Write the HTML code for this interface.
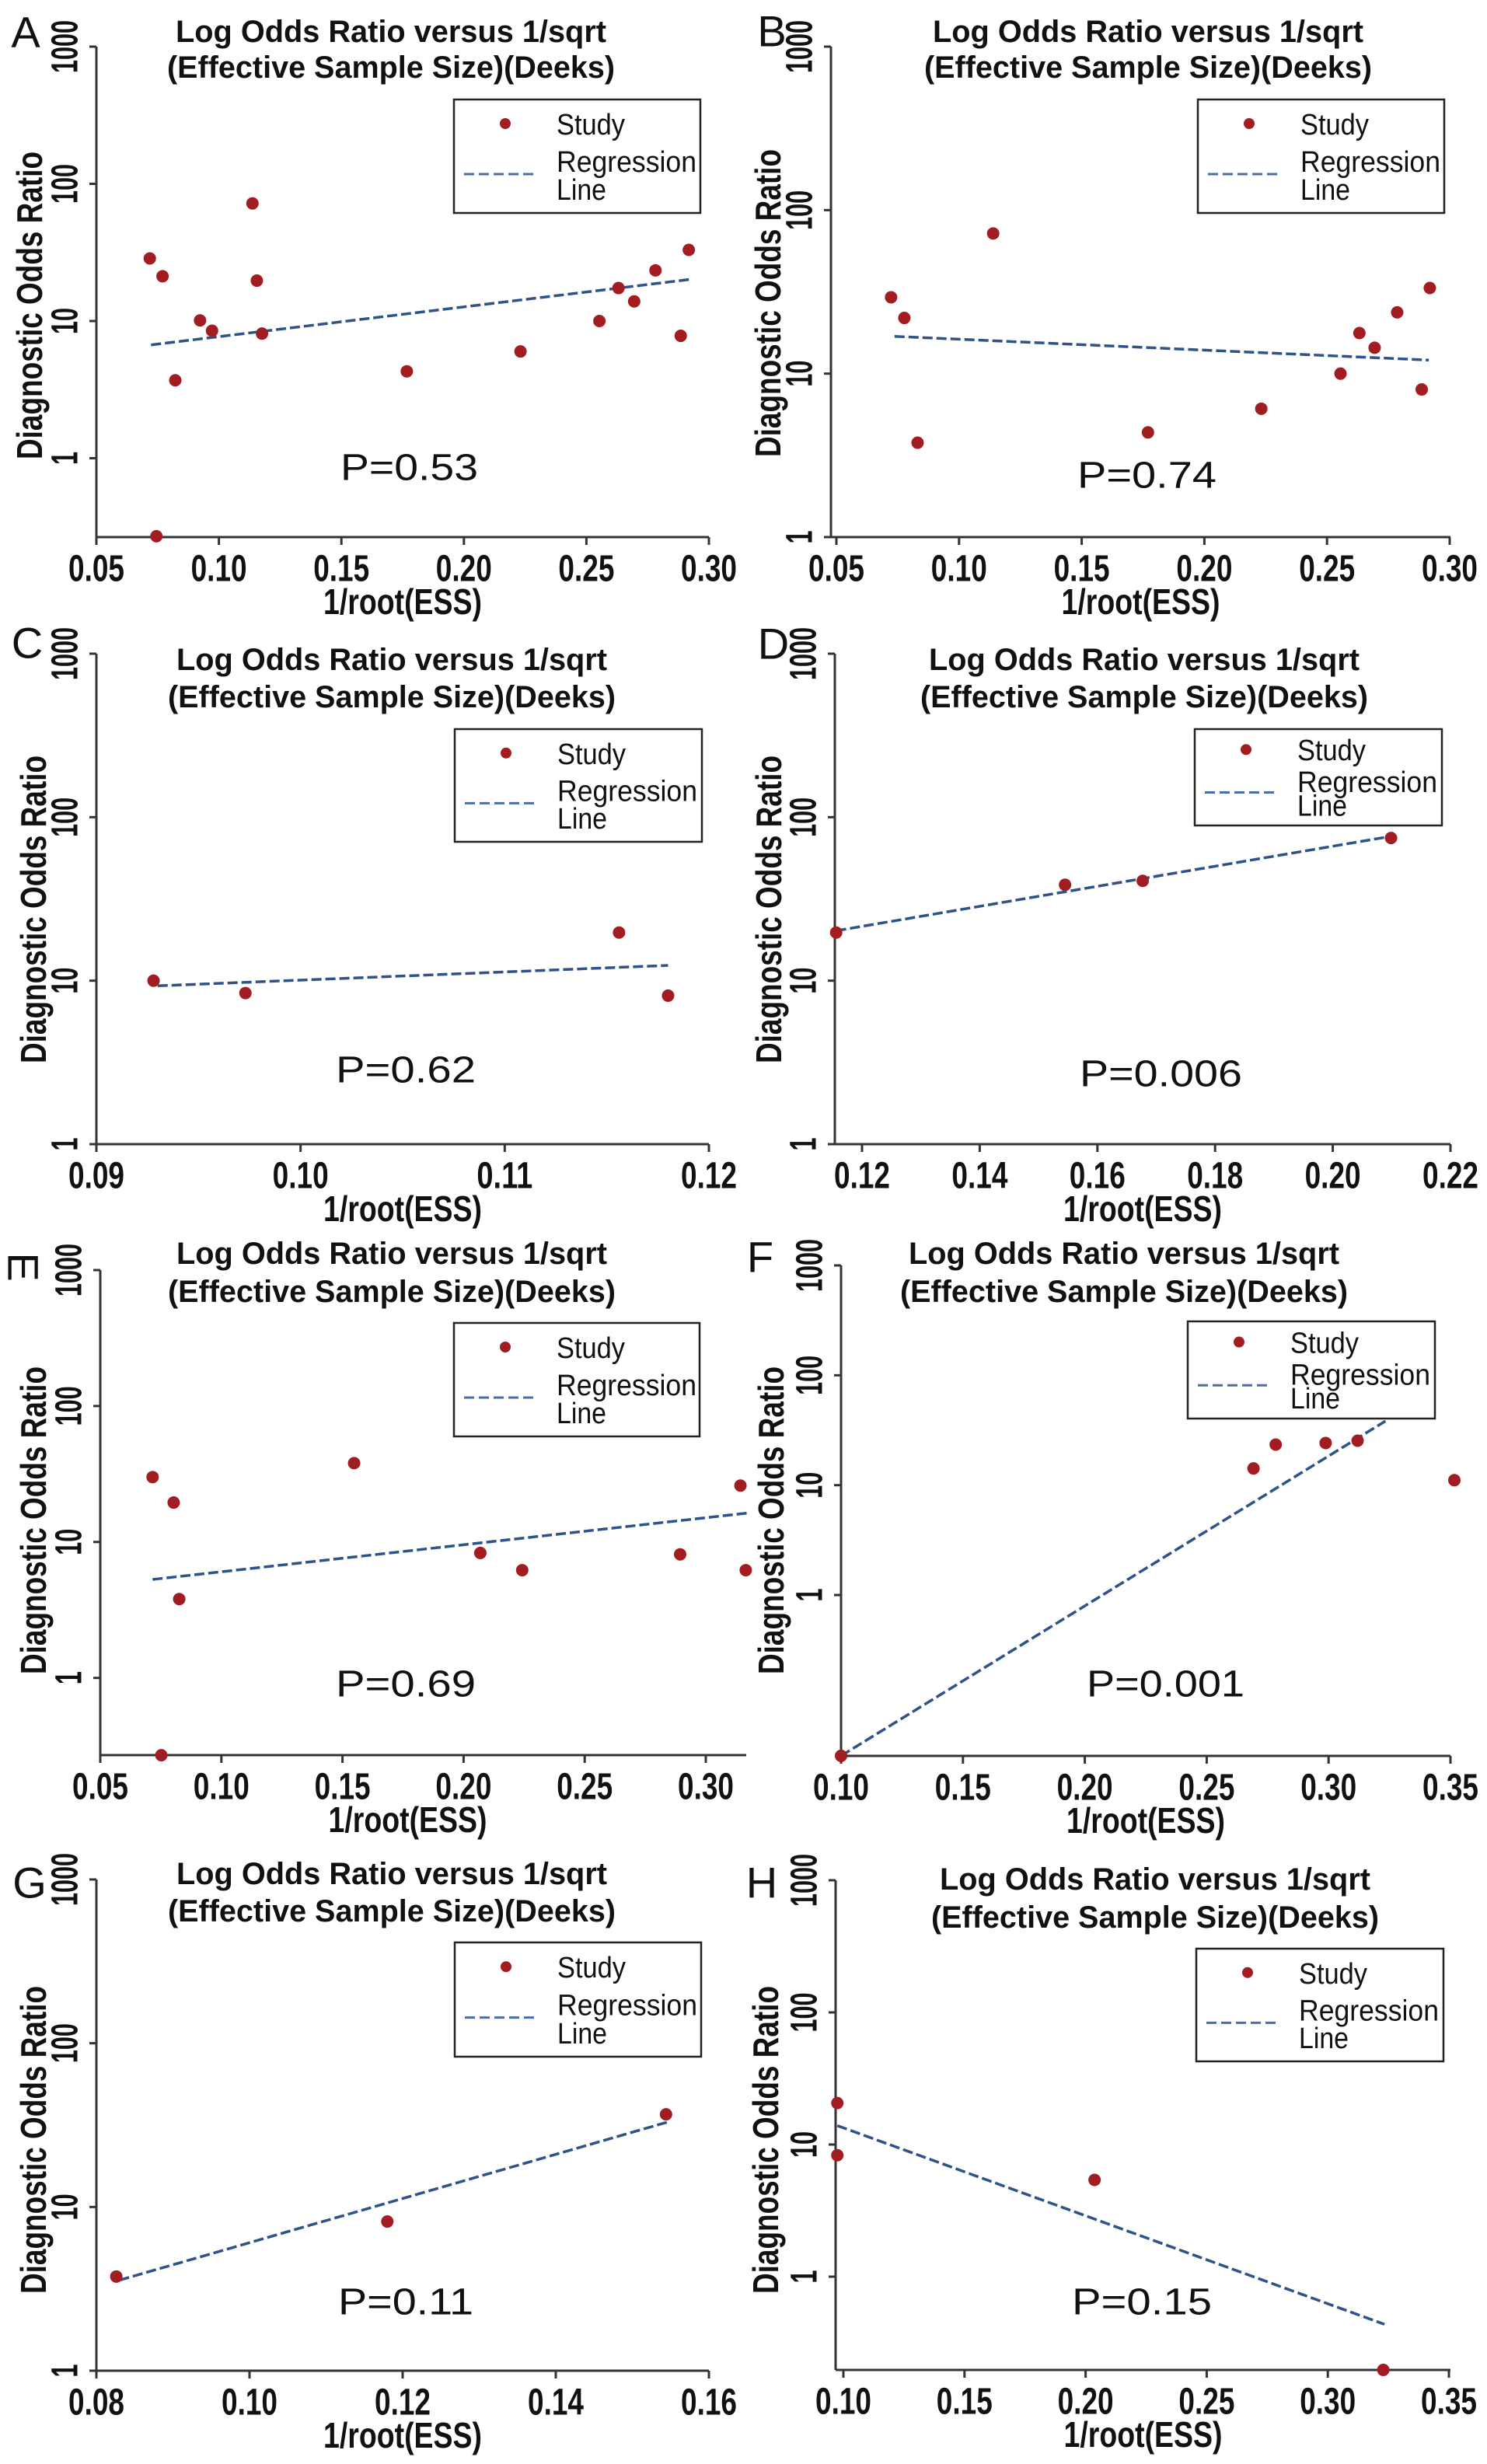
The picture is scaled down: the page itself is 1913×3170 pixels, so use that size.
<!DOCTYPE html>
<html><head><meta charset="utf-8"><title>Deeks funnel plots</title>
<style>
html,body{margin:0;padding:0;background:#fff;}
svg{display:block;}
text{font-family:"Liberation Sans Narrow","Liberation Sans",sans-serif;fill:#111;}
</style></head>
<body>
<svg id="fig" xmlns="http://www.w3.org/2000/svg" width="1913" height="3170" viewBox="0 0 1913 3170"></svg>
<script>
// ---- data ----
const aX=[0.0718,0.077,0.0822,0.0923,0.0972,0.1137,0.1155,0.1176,0.1767,0.2231,0.2553,0.2631,0.2695,0.2782,0.2885,0.2918,0.0745];
const aY=[28.6,21.2,3.7,10.1,8.5,72,19.7,8.1,4.3,6.0,10,17.4,13.9,23.4,7.8,33,0.27];
const aRegX=[0.0723,0.2922]; const aRegY=[6.7,20.1];
const bX=[0.0723,0.0777,0.0831,0.1139,0.177,0.2232,0.2555,0.2632,0.2694,0.2786,0.2886,0.2919];
const bY=[29.3,21.9,3.78,72,4.37,6.1,10,17.7,14.4,23.7,8.0,33.4];
const bRegX=[0.0737,0.2915]; const bRegY=[16.9,12.1];
const cX=[0.0928,0.0973,0.1156,0.118]; const cY=[10,8.4,19.7,8.1];
const cRegX=[0.093,0.118]; const cRegY=[9.3,12.4];
const dX=[0.1156,0.1545,0.1677,0.2099]; const dY=[19.7,38.6,40.8,74.6];
const dRegX=[0.1156,0.2099]; const dRegY=[20.2,76.4];
const eX=[0.0716,0.0803,0.0826,0.0752,0.1548,0.2069,0.2242,0.2894,0.3143,0.3165];
const eY=[30,19.5,3.8,0.27,38,8.3,6.2,8.1,26,6.2];
const eRegX=[0.0716,0.317]; const eRegY=[5.3,16.3];
const fX=[0.10,0.2692,0.2783,0.2988,0.3119,0.3516]; const fY=[0.0344,14.2,23.4,24.2,25.4,11.1];
const fRegX=[0.10,0.3233]; const fRegY=[0.0344,38.3];
const gX=[0.0826,0.118,0.1544]; const gY=[3.76,8.15,36.8];
const gRegX=[0.083,0.1546]; const gRegY=[3.57,33];
const hX=[0.0975,0.0975,0.2037,0.3229]; const hY=[20.6,8.3,5.4,0.197];
const hRegX=[0.0975,0.3234]; const hRegY=[13.9,0.436];
const ticks005=[0.05,0.10,0.15,0.20,0.25,0.30]; const labels005=["0.05","0.10","0.15","0.20","0.25","0.30"];
const ticksC=[0.09,0.10,0.11,0.12]; const labelsC=["0.09","0.10","0.11","0.12"];
const ticksD=[0.12,0.14,0.16,0.18,0.20,0.22]; const labelsD=["0.12","0.14","0.16","0.18","0.20","0.22"];
const ticksF=[0.10,0.15,0.20,0.25,0.30,0.35]; const labelsF=["0.10","0.15","0.20","0.25","0.30","0.35"];
const ticksG=[0.08,0.10,0.12,0.14,0.16]; const labelsG=["0.08","0.10","0.12","0.14","0.16"];
const yTicks=[1000,100,10,1]; const yLabels=["1000","100","10","1"];
const pTexts=["P=0.53","P=0.74","P=0.62","P=0.006","P=0.69","P=0.001","P=0.11","P=0.15"];

// ---- layout (pixel geometry) ----
const panels=[
 {id:"a",L:"A",X:aX,Y:aY,RX:aRegX,RY:aRegY,xt:ticks005,xl:labels005,v0:0.05,v1:0.30,p0:124,p1:912,ax0:124,ax1:912,yTop:60,yBot:691,botLog:-0.575,title:[503,41,87],leg:[584,128,901,274],pT:[438,615,602],yT:[38,393],let:[33,41,0]},
 {id:"b",L:"B",X:bX,Y:bY,RX:bRegX,RY:bRegY,xt:ticks005,xl:labels005,v0:0.05,v1:0.30,p0:1076,p1:1865,ax0:1069,ax1:1866,yTop:60,yBot:691,botLog:0,title:[1477,41,87],leg:[1541,128,1858,274],pT:[1386,1565,612],yT:[988,390],let:[993,40,0]},
 {id:"c",L:"C",X:cX,Y:cY,RX:cRegX,RY:cRegY,xt:ticksC,xl:labelsC,v0:0.09,v1:0.12,p0:124,p1:912,ax0:124,ax1:912,yTop:841,yBot:1472,botLog:0,title:[504,849,897],leg:[585,938,903,1083],pT:[432,612,1377],yT:[43,1170],let:[35,827,0]},
 {id:"d",L:"D",X:dX,Y:dY,RX:dRegX,RY:dRegY,xt:ticksD,xl:labelsD,v0:0.12,v1:0.22,p0:1109,p1:1866,ax0:1074,ax1:1866,yTop:841,yBot:1472,botLog:0,title:[1472,849,897],leg:[1537,938,1855,1062],pT:[1389,1598,1382],yT:[989,1170],let:[995,828,0]},
 {id:"e",L:"E",X:eX,Y:eY,RX:eRegX,RY:eRegY,xt:ticks005,xl:labels005,v0:0.05,v1:0.30,p0:129,p1:908,ax0:129,ax1:960,yTop:1634,yBot:2258,botLog:-0.568,title:[504,1613,1662],leg:[584,1702,900,1848],pT:[432,612,2167],yT:[43,1956],let:[30,1630,90]},
 {id:"f",L:"F",X:fX,Y:fY,RX:fRegX,RY:fRegY,xt:ticksF,xl:labelsF,v0:0.10,v1:0.35,p0:1082,p1:1866,ax0:1082,ax1:1866,yTop:1628,yBot:2259,botLog:-1.464,title:[1446,1613,1662],leg:[1528,1700,1846,1825],pT:[1398,1601,2167],yT:[992,1956],let:[978,1617,0]},
 {id:"g",L:"G",X:gX,Y:gY,RX:gRegX,RY:gRegY,xt:ticksG,xl:labelsG,v0:0.08,v1:0.16,p0:124,p1:912,ax0:124,ax1:912,yTop:2418,yBot:3050,botLog:0,title:[504,2411,2459],leg:[585,2499,902,2646],pT:[435,609,2962],yT:[43,2753],let:[38,2422,0]},
 {id:"h",L:"H",X:hX,Y:hY,RX:hRegX,RY:hRegY,xt:ticksF,xl:labelsF,v0:0.10,v1:0.35,p0:1085,p1:1864,ax0:1075,ax1:1866,yTop:2419,yBot:3049,botLog:-0.706,title:[1486,2418,2467],leg:[1539,2507,1857,2652],pT:[1379,1559,2962],yT:[985,2753],let:[980,2422,0]}
];
const NS="http://www.w3.org/2000/svg";
const svg=document.getElementById("fig");
function mk(tag,attrs,parent){const e=document.createElementNS(NS,tag);for(const k in attrs)e.setAttribute(k,attrs[k]);parent.appendChild(e);return e;}
function txt(str,attrs,parent){const t=mk("text",attrs,parent);t.textContent=str;return t;}

panels.forEach((P,pi)=>{
  const g=mk("g",{},svg);
  
  
  const sx=v=>P.p0+(v-P.v0)/(P.v1-P.v0)*(P.p1-P.p0);
  const dec=(P.yBot-P.yTop)/(3-P.botLog);
  const sy=v=>P.yTop+(3-Math.log10(v))*dec;
  const lt=txt(P.L,{x:P.let[0],y:P.let[1],"font-size":56,"text-anchor":"middle","dominant-baseline":"central",transform:P.let[2]?`rotate(${P.let[2]} ${P.let[0]} ${P.let[1]})`:"" ,style:'font-family:"Liberation Sans",sans-serif'},g);
  
  
  const t1=txt("Log Odds Ratio versus 1/sqrt",{x:P.title[0],y:P.title[1],"font-size":40,"font-weight":"bold","text-anchor":"middle","dominant-baseline":"central",textLength:554,lengthAdjust:"spacingAndGlyphs"},g);
  
  
  const t2=txt("(Effective Sample Size)(Deeks)",{x:P.title[0],y:P.title[2],"font-size":40,"font-weight":"bold","text-anchor":"middle","dominant-baseline":"central",textLength:576,lengthAdjust:"spacingAndGlyphs"},g);
  
  
  const ya=mk("line",{x1:P.ax0,y1:P.yTop,x2:P.ax0,y2:P.yBot,stroke:"#333","stroke-width":3},g);
  
  
  const xa=mk("line",{x1:P.ax0,y1:P.yBot,x2:P.ax1,y2:P.yBot,stroke:"#333","stroke-width":3},g);
  
  
  P.xt.forEach((v,i)=>{
    const x=sx(v);
    const tk=mk("line",{x1:x,y1:P.yBot,x2:x,y2:P.yBot+10,stroke:"#333","stroke-width":3},g);
    
    
    const tl=txt(P.xl[i],{x:x,y:P.yBot+41,"font-size":48,"font-weight":"bold","text-anchor":"middle","dominant-baseline":"central",textLength:72,lengthAdjust:"spacingAndGlyphs"},g);
    
    
  });
  yTicks.forEach((v,i)=>{
    if(Math.log10(v)<P.botLog-1e-9)return;
    const y=sy(v);
    const tk=mk("line",{x1:P.ax0-9,y1:y,x2:P.ax0,y2:y,stroke:"#333","stroke-width":3},g);
    
    
    const lx=P.ax0-40;
    const tl=txt(yLabels[i],{x:lx,y:y,"font-size":48,"font-weight":"bold","text-anchor":"middle","dominant-baseline":"central",textLength:17*yLabels[i].length,lengthAdjust:"spacingAndGlyphs",transform:`rotate(-90 ${lx} ${y})`},g);
    
    
  });
  const xt=txt("1/root(ESS)",{x:(P.ax0+P.ax1)/2+ (P.id==="e"?-20:0),y:P.yBot+83,"font-size":46,"font-weight":"bold","text-anchor":"middle","dominant-baseline":"central",textLength:204,lengthAdjust:"spacingAndGlyphs"},g);
  
  
  const yt=txt("Diagnostic Odds Ratio",{x:P.yT[0],y:P.yT[1],"font-size":46,"font-weight":"bold","text-anchor":"middle","dominant-baseline":"central",textLength:396,lengthAdjust:"spacingAndGlyphs",transform:`rotate(-90 ${P.yT[0]} ${P.yT[1]})`},g);
  
  
  const rl=mk("line",{x1:sx(P.RX[0]),y1:sy(P.RY[0]),x2:sx(P.RX[1]),y2:sy(P.RY[1]),stroke:"#2f5289","stroke-width":3.5,"stroke-dasharray":"13 5"},g);
  
  
  P.X.forEach((v,i)=>{
    const c=mk("circle",{cx:sx(v),cy:sy(P.Y[i]),r:8,fill:"#a21d22"},g);
    
    
  });
  const pt=txt(pTexts[pi],{x:P.pT[0],y:P.pT[2],"font-size":48,"dominant-baseline":"central",textLength:P.pT[1]-P.pT[0],lengthAdjust:"spacingAndGlyphs",style:'font-family:"Liberation Sans",sans-serif'},g);
  
  
  const [lx0,ly0,lx1,ly1]=P.leg;
  const h=ly1-ly0;
  const lg=mk("g",{},g);
  
  
  mk("rect",{x:lx0,y:ly0,width:lx1-lx0,height:h,fill:"#fff",stroke:"#222","stroke-width":2.5},lg);
  const s=h/146;
  const ld=mk("circle",{cx:lx0+66,cy:ly0+31*s,r:7,fill:"#a21d22"},lg);
  
  
  const ls=txt("Study",{x:lx0+132,y:ly0+33*s,"font-size":38,"dominant-baseline":"central",textLength:88,lengthAdjust:"spacingAndGlyphs"},lg);
  
  
  const ll=mk("line",{x1:lx0+13,y1:ly0+96*s,x2:lx0+105,y2:ly0+96*s,stroke:"#4a6fa5","stroke-width":3,"stroke-dasharray":"13 6"},lg);
  
  
  const lr=txt("Regression",{x:lx0+132,y:ly0+81*s,"font-size":38,"dominant-baseline":"central",textLength:180,lengthAdjust:"spacingAndGlyphs"},lg);
  
  
  const ln=txt("Line",{x:lx0+132,y:ly0+117*s,"font-size":38,"dominant-baseline":"central",textLength:64,lengthAdjust:"spacingAndGlyphs"},lg);
  
  
});
</script>
</body></html>
